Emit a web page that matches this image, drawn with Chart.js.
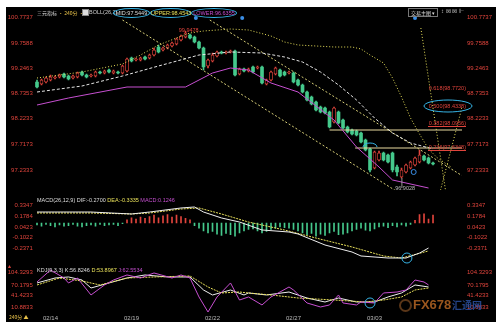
<!DOCTYPE html>
<html>
<head>
<meta charset="utf-8">
<script src="https://cdn.jsdelivr.net/npm/chart.js@4.4.1/dist/chart.umd.min.js"></script>
<style>
  body{margin:0;width:496px;height:325px;background:#fff;position:relative;overflow:hidden;font-family:"Liberation Sans",Arial,sans-serif}
  #panel{position:absolute;left:6px;top:7px;width:490px;height:315px;background:#000}
  canvas{position:absolute;left:6px}
  .t{position:absolute;white-space:nowrap;font-size:5.5px;line-height:7px;color:#ddd}
  .oval{position:absolute;height:8px;border:1px solid #36b4e6;border-radius:50%;font-size:5.5px;line-height:8px;text-align:center;white-space:nowrap}
</style>
</head>
<body>
<div id="panel"></div>
<canvas id="mainchart" width="490" height="186" style="top:7px"></canvas>
<canvas id="macdchart" width="490" height="73" style="top:193px"></canvas>
<canvas id="kdjchart" width="490" height="56" style="top:266px"></canvas>

<!-- start header -->
<div class="t" style="left:37px;top:9px;font-family:'Noto Sans CJK SC';font-size:5px">三元指标 <span style="color:#e8c24a">• 240分 •</span></div>
<div class="t" style="left:82px;top:9px;width:5px;height:5px;background:#ddd;border:1px solid #888"></div>
<div class="t" style="left:89px;top:9px;color:#ccc">BOLL(26,2)</div>
<div class="oval" style="left:113px;top:8px;width:35px;color:#ddd">MID:97.5449</div>
<div class="oval" style="left:150px;top:8px;width:39px;color:#e8e05a">UPPER:98.4543</div>
<div class="oval" style="left:191px;top:8px;width:44px;color:#c64fd0">LOWER:96.6355</div>
<div class="t" style="left:408px;top:8px;border:1px solid #777;padding:0 2px;font-family:'Noto Sans CJK SC';font-size:5px;line-height:7px">交易主图 ▾</div>
<div class="t" style="left:441px;top:8px;color:#bbb;font-size:6px">↕ ⊠ ⊠ ⊩</div>
<!-- end header -->

<!-- start sub titles -->
<div class="t" style="left:37px;top:197px">MACD(26,12,9) DIF:-0.2700 <span style="color:#e8e05a">DEA:-0.3335</span> <span style="color:#c64fd0">MACD:0.1246</span></div>
<div class="t" style="left:37px;top:267px">KDJ(9,3,3) K:56.8246 <span style="color:#e8e05a">D:53.8967</span> <span style="color:#c64fd0">J:62.5534</span></div>
<div class="t" style="left:8px;top:263px;color:#e0443c;font-size:6px">▴</div>
<div class="t" style="left:9px;top:313px;color:#e8c24a;font-family:'Noto Sans CJK SC';font-size:5px">240分 ▲</div>
<div class="t" style="left:399px;top:299px;width:9px;height:9px;border:2px solid rgba(150,90,40,0.6);border-radius:50%"></div>
<div class="t" style="left:413px;top:298px;color:rgba(205,115,40,0.75);font-size:13px;line-height:14px;font-weight:bold">FX678</div>
<div class="t" style="left:452px;top:299px;color:rgba(45,85,170,0.8);font-family:'Noto Sans CJK SC';font-size:10px;line-height:12px;font-weight:bold">汇通网</div>
<!-- end sub titles -->

<script>
// start data
const dates = ['02/14', '02/19', '02/22', '02/27', '03/03'];
const dateIdx = [3, 21, 39, 57, 75];

const opens  = [98.97,98.93,98.97,99.01,99.05,99.07,99.13,99.09,99.05,99.07,99.17,99.11,99.09,99.09,99.17,99.15,99.21,99.15,99.17,99.15,
                99.19,99.45,99.41,99.41,99.47,99.45,99.51,99.67,99.61,99.65,99.69,99.73,99.81,99.87,99.91,99.87,99.77,99.65,99.29,99.39,
                99.49,99.57,99.55,99.57,99.59,99.13,99.23,99.19,99.27,99.25,99.27,98.93,99.01,99.13,99.21,99.17,99.15,99.15,99.01,98.91,
                98.77,98.67,98.57,98.47,98.45,98.37,98.17,98.37,98.21,98.07,98.01,97.99,97.95,97.81,97.63,97.25,97.41,97.55,97.51,97.55,
                97.27,97.07,97.17,97.25,97.31,97.37,97.49,97.45,97.35];
const highs  = [99.01,99.03,99.07,99.11,99.09,99.13,99.15,99.11,99.11,99.17,99.19,99.13,99.13,99.19,99.19,99.21,99.23,99.21,99.19,99.31,
                99.45,99.47,99.45,99.47,99.49,99.53,99.65,99.71,99.67,99.73,99.77,99.85,99.91,99.99,99.93,99.89,99.79,99.67,99.43,99.55,
                99.59,99.59,99.59,99.61,99.61,99.25,99.25,99.25,99.29,99.29,99.29,99.03,99.19,99.27,99.23,99.19,99.19,99.17,99.03,98.93,
                98.79,98.69,98.59,98.49,98.47,98.39,98.47,98.39,98.23,98.09,98.03,98.01,97.97,97.83,97.65,97.59,97.59,97.57,97.53,97.57,
                97.31,97.25,97.33,97.39,97.47,97.61,97.51,97.47,97.37];
const lows   = [98.85,98.91,98.95,98.99,99.03,99.05,99.05,99.01,99.03,99.05,99.09,99.05,99.07,99.07,99.13,99.13,99.15,99.13,99.13,99.13,
                99.17,99.37,99.39,99.39,99.41,99.43,99.49,99.55,99.59,99.63,99.67,99.71,99.79,99.85,99.83,99.75,99.63,99.21,99.25,99.37,
                99.47,99.53,99.53,99.55,99.09,99.11,99.17,99.17,99.15,99.23,98.93,98.91,98.99,99.11,99.07,99.09,99.13,98.95,98.89,98.75,
                98.59,98.51,98.39,98.35,98.33,98.05,98.15,98.13,98.03,97.95,97.91,97.89,97.75,97.59,97.17,97.23,97.39,97.39,97.35,97.17,
                97.09,97.05,97.15,97.23,97.29,97.35,97.39,97.33,97.31];
const closes = [98.87,99.01,99.05,99.07,99.07,99.11,99.07,99.03,99.09,99.15,99.11,99.07,99.11,99.17,99.15,99.19,99.17,99.19,99.15,99.29,
                99.43,99.39,99.43,99.45,99.43,99.51,99.61,99.57,99.65,99.71,99.75,99.83,99.89,99.95,99.85,99.77,99.65,99.27,99.41,99.51,
                99.57,99.55,99.57,99.59,99.11,99.23,99.19,99.23,99.17,99.27,98.95,99.01,99.17,99.25,99.09,99.11,99.17,98.97,98.91,98.77,
                98.61,98.53,98.41,98.37,98.35,98.07,98.45,98.15,98.05,97.97,97.93,97.91,97.77,97.61,97.21,97.57,97.55,97.41,97.37,97.21,
                97.17,97.21,97.31,97.37,97.45,97.51,97.41,97.35,97.33];

// bollinger lines read at a few candles
const upperIdx = [0, 10, 19, 23, 27, 31, 34, 37, 43, 47, 52, 55, 58, 62, 66, 70, 72, 74, 77, 79, 81, 83, 85, 87, 89, 92];
const upperVal = [99.05,99.17,99.33,99.51,99.71,99.85,99.95,99.99,100.03,100.01,99.89,99.77,99.71,99.69,99.67,99.67,99.63,99.51,99.35,99.05,98.67,98.25,97.93,97.63,97.45,97.27];
const midIdx = [0, 10, 19, 27, 36, 43, 50, 55, 59, 63, 67, 71, 75, 79, 83, 88];
const midVal = [98.77,98.89,99.09,99.29,99.51,99.57,99.55,99.47,99.37,99.17,98.91,98.61,98.25,97.95,97.75,97.63];
const lowerIdx = [0, 7, 20, 33, 39, 43, 47, 52, 58, 66, 71, 76, 79, 87];
const lowerVal = [98.51,98.65,98.87,98.87,99.15,99.25,99.21,98.95,98.77,98.21,97.67,97.27,97.01,96.85];

// drawn lines on the price panel: [startIdx, startPrice, endIdx, endPrice]
const channelLow  = [19, 100.21, 83, 96.61];
const channelHigh = [38.4, 100.21, 94.4, 97.10];
const dotLineA    = [85.3, 100.05, 91.1, 96.61];
const dotLineB    = [94.4, 98.45, 89.5, 96.75];
const fibLevels = [98.85, 98.49, 98.15, 97.67];
const fibLabels = ['0.618(98.7720)', '0.500(98.4338)', '0.382(98.0956)', '0.236(97.6348)'];
const fibLines = [[65, 98.01], [70.7, 97.65]];

const priceTicks = [100.27, 99.75, 99.25, 98.75, 98.25, 97.73, 97.21];
const priceTickLabels = ['100.7737', '99.7588', '99.2463', '98.7353', '98.2233', '97.7173', '97.2333'];

// macd
const difIdx = [0, 12, 21, 25, 32, 35, 37, 41, 45, 50, 56, 58, 64, 70, 72, 78, 82, 85, 87];
const difVal = [0.168,0.168,0.138,0.168,0.230,0.245,0.168,0.077,0.015,-0.107,-0.138,-0.168,-0.337,-0.444,-0.505,-0.536,-0.536,-0.46,-0.383];
const deaIdx = [0, 12, 21, 25, 32, 36, 41, 47, 55, 62, 70, 77, 81, 87];
const deaVal = [0.153,0.153,0.138,0.153,0.214,0.230,0.138,0.015,-0.107,-0.230,-0.367,-0.505,-0.536,-0.428];
const macdHist = [-0.03,-0.05,-0.02,-0.04,-0.06,-0.03,-0.05,-0.04,-0.02,-0.05,-0.06,-0.04,-0.03,-0.05,-0.02,-0.04,-0.03,-0.02,-0.04,-0.01,
                  0.05,0.08,0.06,0.09,0.07,0.10,0.12,0.08,0.11,0.13,0.09,0.12,0.10,0.07,0.05,
                  -0.04,-0.08,-0.12,-0.15,-0.13,-0.17,-0.19,-0.16,-0.18,-0.20,
                  -0.15,-0.12,-0.10,-0.09,-0.12,-0.15,-0.13,-0.10,-0.08,-0.06,-0.07,
                  -0.08,-0.10,-0.12,-0.15,-0.18,-0.16,-0.20,-0.17,-0.19,-0.15,-0.13,-0.18,-0.17,-0.15,-0.12,-0.10,-0.08,-0.11,-0.12,-0.09,-0.06,
                  -0.05,-0.07,-0.04,-0.06,-0.03,-0.05,-0.02,
                  0.04,0.13,0.14,0.06,0.12];
const macdTicks = [0.275, 0.107, -0.061, -0.214, -0.383];
const macdTickLabels = ['0.3347', '0.1784', '0.0423', '-0.1022', '-0.2371'];

// kdj
const kIdx = [0, 4, 7, 10, 12, 16, 20, 24, 29, 34, 37, 39, 43, 46, 47, 51, 56, 60, 64, 67, 71, 75, 78, 81, 84, 87];
const kVal = [75.2,88.4,91.1,83.1,61.9,75.2,88.4,96.4,91.1,91.1,56.6,43.4,56.6,43.4,48.7,43.4,51.3,35.4,24.8,35.4,24.8,24.8,38.1,48.7,69.9,64.6];
const dIdx = [0, 5, 10, 14, 20, 26, 34, 38, 41, 45, 47, 52, 58, 66, 73, 77, 81, 84, 87];
const dVal = [69.9,88.4,80.5,69.9,88.4,91.1,93.7,64.6,48.7,51.3,48.7,43.4,35.4,30.1,24.8,30.1,38.1,56.6,61.9];
const jIdx = [0, 3, 6, 7, 9, 12, 15, 17, 20, 23, 26, 30, 32, 34, 36, 38, 40, 43, 45, 47, 50, 52, 56, 57, 60, 63, 65, 67, 68, 71, 72, 75, 77, 80, 82, 84, 86, 87];
const jVal = [77.8,109.6,88.4,75.2,88.4,43.4,69.9,83.1,96.4,88.4,101.7,88.4,96.4,88.4,38.1,-1.7,38.1,75.2,30.1,38.1,16.9,38.1,64.6,56.6,22.2,11.6,16.9,43.4,22.2,16.9,24.8,22.2,48.7,51.3,56.6,83.1,77.8,69.9];
const kdjTicks = [104.3293, 70.1795, 41.4233, 10.8833];
// end data

const RED = '#e0443c';
const GREEN = '#45c98c';
const YEL = '#e8e05a';
const MAG = '#c64fd0';
const CYAN = '#36b4e6';

Chart.defaults.font.family = 'Liberation Sans';
Chart.defaults.font.size = 6;
Chart.defaults.animation = false;
Chart.defaults.events = [];
Chart.defaults.plugins.legend.display = false;
Chart.defaults.plugins.tooltip.enabled = false;

function pts(idx, val){
  return idx.map((v, k) => ({x: v, y: val[k]}));
}
function seg(s){
  return [{x: s[0], y: s[1]}, {x: s[2], y: s[3]}];
}
function lineSet(data, color, dash, width){
  return {type: 'line', data: data, borderColor: color, borderWidth: width || 1, borderDash: dash || [],
          pointRadius: 0, fill: false, tension: 0, order: 0};
}
// axes keep no extra padding so the plot area is exactly the layout box
function noPad(s){
  s.paddingTop = 0; s.paddingBottom = 0; s.paddingLeft = 0; s.paddingRight = 0;
}
function yAxis(pos, min, max, ticks, labels, w){
  return {
    position: pos, min: min, max: max,
    grid: {display: false, drawTicks: false}, border: {display: false},
    afterBuildTicks: s => { s.ticks = ticks.map(v => ({value: v})); },
    afterFit: s => { s.width = w; noPad(s); },
    ticks: {color: RED, padding: pos == 'left' ? 2 : 5, autoSkip: false,
            callback: (v, i) => labels[i]}
  };
}
const xAxis = {type: 'linear', min: -0.5, max: 94.44, offset: false, display: false};

// start price chart
const up = opens.map((o, i) => closes[i] >= o);
const candleBody = opens.map((o, i) => ({x: i, y: [Math.min(o, closes[i]), Math.max(o, closes[i])]}));
const candleWick = opens.map((o, i) => ({x: i, y: [lows[i], highs[i]]}));

const notesPlugin = {
  id: 'notes',
  afterDatasetsDraw(chart){
    const c = chart.ctx, x = chart.scales.x, y = chart.scales.y;
    c.save();
    c.font = '5.5px Liberation Sans';
    c.textAlign = 'right';
    c.textBaseline = 'middle';
    fibLevels.forEach((v, k) => {
      const py = y.getPixelForValue(v);
      c.fillStyle = RED;
      c.fillText(fibLabels[k], chart.chartArea.right + 4, py);
      if (k >= 2) { c.fillRect(chart.chartArea.right - 34, py + 3, 38, 1); }
    });
    // ellipse on the 0.500 label
    c.strokeStyle = CYAN; c.lineWidth = 1;
    c.beginPath();
    c.ellipse(chart.chartArea.right - 14, y.getPixelForValue(fibLevels[1]), 24, 6, 0, 0, Math.PI * 2);
    c.stroke();
    // arc over the candle at the first low
    c.beginPath();
    c.ellipse(x.getPixelForValue(74), y.getPixelForValue(97.67), 7, 4, 0, Math.PI, Math.PI * 2);
    c.stroke();
    // small blue signal marks
    c.fillStyle = '#3a8ee6';
    [35.3, 45.6, 84].forEach(v => {
      c.beginPath(); c.arc(x.getPixelForValue(v), y.getPixelForValue(100.25), 2, 0, Math.PI * 2); c.fill();
    });
    c.strokeStyle = '#3a8ee6';
    c.beginPath(); c.arc(x.getPixelForValue(83.7), y.getPixelForValue(97.17), 2.5, 0, Math.PI * 2); c.stroke();
    // high / low labels
    c.textAlign = 'left';
    c.fillStyle = RED;
    c.fillText('99.9478', x.getPixelForValue(31.5), y.getPixelForValue(100.0));
    c.fillStyle = '#bbb';
    c.fillText('96.9028', x.getPixelForValue(79.6), y.getPixelForValue(96.84));
    c.fillRect(x.getPixelForValue(81), y.getPixelForValue(97.05), 0.8, 10);
    c.restore();
  }
};

new Chart(document.getElementById('mainchart'), {
  type: 'bar',
  data: {
    datasets: [
      lineSet(pts(upperIdx, upperVal), YEL, [1, 2]),
      lineSet(pts(midIdx, midVal), '#e6e6e6', [3, 2]),
      lineSet(pts(lowerIdx, lowerVal), MAG, []),
      lineSet(seg(channelLow), '#d8cf78', [2, 2]),
      lineSet(seg(channelHigh), '#d8cf78', [2, 2]),
      lineSet(seg(dotLineA), YEL, [1, 2]),
      lineSet(seg(dotLineB), YEL, [1, 2]),
      lineSet([{x: fibLines[0][0], y: fibLines[0][1]}, {x: 94.44, y: fibLines[0][1]}], '#eadba0', []),
      lineSet([{x: fibLines[1][0], y: fibLines[1][1]}, {x: 94.44, y: fibLines[1][1]}], '#eadba0', []),
      {type: 'bar', data: candleWick, grouped: false, barThickness: 1, order: 2,
       backgroundColor: up.map(u => u ? RED : GREEN)},
      {type: 'bar', data: candleBody, grouped: false, barThickness: 3, minBarLength: 1, order: 1,
       backgroundColor: up.map(u => u ? '#000' : GREEN), borderColor: up.map(u => u ? RED : GREEN),
       borderWidth: up.map(u => u ? 0.8 : 0), borderSkipped: false}
    ]
  },
  options: {
    responsive: false, devicePixelRatio: 1,
    layout: {padding: {top: 1, bottom: 3, left: 0, right: 0}},
    scales: {
      x: xAxis,
      y: yAxis('left', 96.81, 100.45, priceTicks, priceTickLabels, 28.75),
      y2: yAxis('right', 96.81, 100.45, priceTicks, priceTickLabels, 34)
    }
  },
  plugins: [notesPlugin]
});
// end price chart

// start macd chart
const ringPlugin = (idx, val) => ({
  id: 'ring',
  afterDatasetsDraw(chart){
    const c = chart.ctx;
    c.save();
    c.strokeStyle = CYAN; c.lineWidth = 1;
    c.beginPath();
    c.arc(chart.scales.x.getPixelForValue(idx), chart.scales.y.getPixelForValue(val), 5, 0, Math.PI * 2);
    c.stroke();
    c.restore();
  }
});

new Chart(document.getElementById('macdchart'), {
  type: 'bar',
  data: {
    datasets: [
      lineSet(pts(difIdx, difVal), '#eeeeee', []),
      lineSet(pts(deaIdx, deaVal), YEL, [2, 1]),
      {type: 'bar', data: macdHist.map((v, i) => ({x: i, y: v})), barThickness: 1, order: 2,
       backgroundColor: macdHist.map(v => v >= 0 ? RED : GREEN)}
    ]
  },
  options: {
    responsive: false, devicePixelRatio: 1,
    layout: {padding: {top: 4, bottom: 4}},
    scales: {
      x: xAxis,
      y: yAxis('left', -0.597, 0.398, macdTicks, macdTickLabels, 28.75),
      y2: yAxis('right', -0.597, 0.398, macdTicks, macdTickLabels, 34)
    }
  },
  plugins: [ringPlugin(82.2, -0.536)]
});
// end macd chart

// start kdj chart
const kdjLabels = kdjTicks.map(v => v.toFixed(4));
new Chart(document.getElementById('kdjchart'), {
  type: 'line',
  data: {
    datasets: [
      lineSet(pts(jIdx, jVal), MAG, []),
      lineSet(pts(dIdx, dVal), YEL, [2, 1]),
      lineSet(pts(kIdx, kVal), '#eeeeee', [])
    ]
  },
  options: {
    responsive: false, devicePixelRatio: 1,
    layout: {padding: {top: 2, bottom: 0}},
    scales: {
      x: {type: 'linear', min: -0.5, max: 94.44, offset: false,
          grid: {display: false, drawTicks: false}, border: {display: false},
          afterBuildTicks: s => { s.ticks = dateIdx.map(v => ({value: v})); },
          afterFit: s => { s.height = 10; noPad(s); },
          ticks: {color: '#bbb', padding: 3, autoSkip: false, maxRotation: 0,
                  callback: (v, i) => dates[i]}},
      y: yAxis('left', -1.7, 114.9, kdjTicks, kdjLabels, 28.75),
      y2: yAxis('right', -1.7, 114.9, kdjTicks, kdjLabels, 34)
    }
  },
  plugins: [ringPlugin(74, 22.2)]
});
// end kdj chart
</script>
</body>
</html>
